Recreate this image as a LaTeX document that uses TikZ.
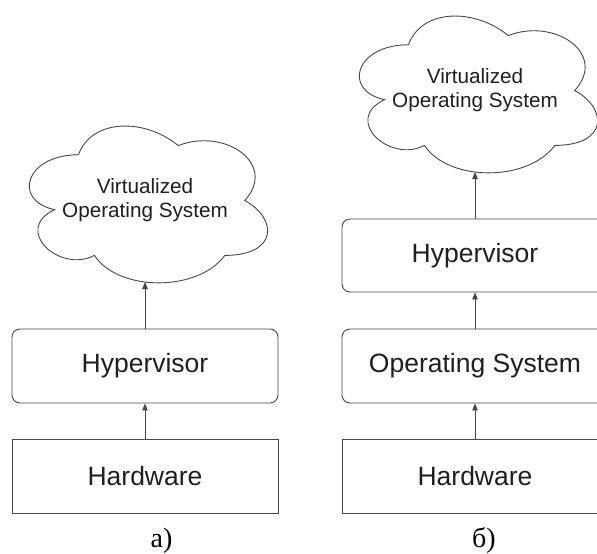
\documentclass[tikz,border=0pt]{standalone}
\usepackage{fontspec}
\setmainfont{Liberation Sans}
\newfontfamily\capserif{Liberation Serif}
\usetikzlibrary{arrows.meta}
\def\CW{266}
\def\CH{183}
\tikzset{
  strokeline/.style={draw=black!72, line width=0.9pt},
  vcloud/.pic={
    \draw[strokeline, fill=white] (0.25*\CW,0.25*\CH)
      .. controls (0.05*\CW,0.25*\CH) and (0,0.5*\CH) .. (0.16*\CW,0.55*\CH)
      .. controls (0,0.66*\CH) and (0.18*\CW,0.9*\CH) .. (0.31*\CW,0.8*\CH)
      .. controls (0.4*\CW,\CH) and (0.7*\CW,\CH) .. (0.8*\CW,0.8*\CH)
      .. controls (\CW,0.8*\CH) and (\CW,0.6*\CH) .. (0.875*\CW,0.5*\CH)
      .. controls (\CW,0.3*\CH) and (0.8*\CW,0.1*\CH) .. (0.625*\CW,0.2*\CH)
      .. controls (0.5*\CW,0.05*\CH) and (0.3*\CW,0.05*\CH) .. (0.25*\CW,0.25*\CH)
      -- cycle;
  }
}
\begin{document}
\begin{tikzpicture}[x=1pt,y=-1pt,
  layer/.style={strokeline, minimum width=266pt, minimum height=74pt, inner sep=0pt,
    font=\fontsize{26.5}{30}\selectfont, text=black!88},
  rlayer/.style={layer, rounded corners=8pt},
  cloudtxt/.style={font=\fontsize{20.7}{24}\selectfont, align=center, text=black!88},
  conn/.style={strokeline, -{Triangle[length=7pt,width=5.5pt]}},
  captxt/.style={font=\capserif\fontsize{28}{30}\selectfont, anchor=base, inner sep=0pt}
]
\useasboundingbox (0,0) rectangle (597,554);
\clip (0,0) rectangle (597,554);

% left column (a)
\pic at (12,109) {vcloud};
\node[cloudtxt] (vos1) at (145,200) {Virtualized\\Operating System};
\coordinate (cb1) at (145,282);
\node[rlayer] (hv1) at (145,366) {Hypervisor};
\node[layer] (hw1) at (145,476) {Hardware};

% right column (b)
\pic at (342,-1) {vcloud};
\node[cloudtxt] (vos2) at (475,90) {Virtualized\\Operating System};
\coordinate (cb2) at (475,172);
\node[rlayer, minimum height=73pt] (hv2) at (475,255.5) {Hypervisor};
\node[rlayer] (os2) at (475,366) {Operating System};
\node[layer] (hw2) at (475,476) {Hardware};

% connectors
\draw[conn] (hw1.north) -- (hv1.south);
\draw[conn] (hv1.north) -- (cb1);
\draw[conn] (hw2.north) -- (os2.south);
\draw[conn] (os2.north) -- (hv2.south);
\draw[conn] (hv2.north) -- (cb2);

% captions
\node[captxt] (capa) at (161.5,547.5) {а)};
\node[captxt] (capb) at (484,547.5) {б)};
\end{tikzpicture}
\end{document}
